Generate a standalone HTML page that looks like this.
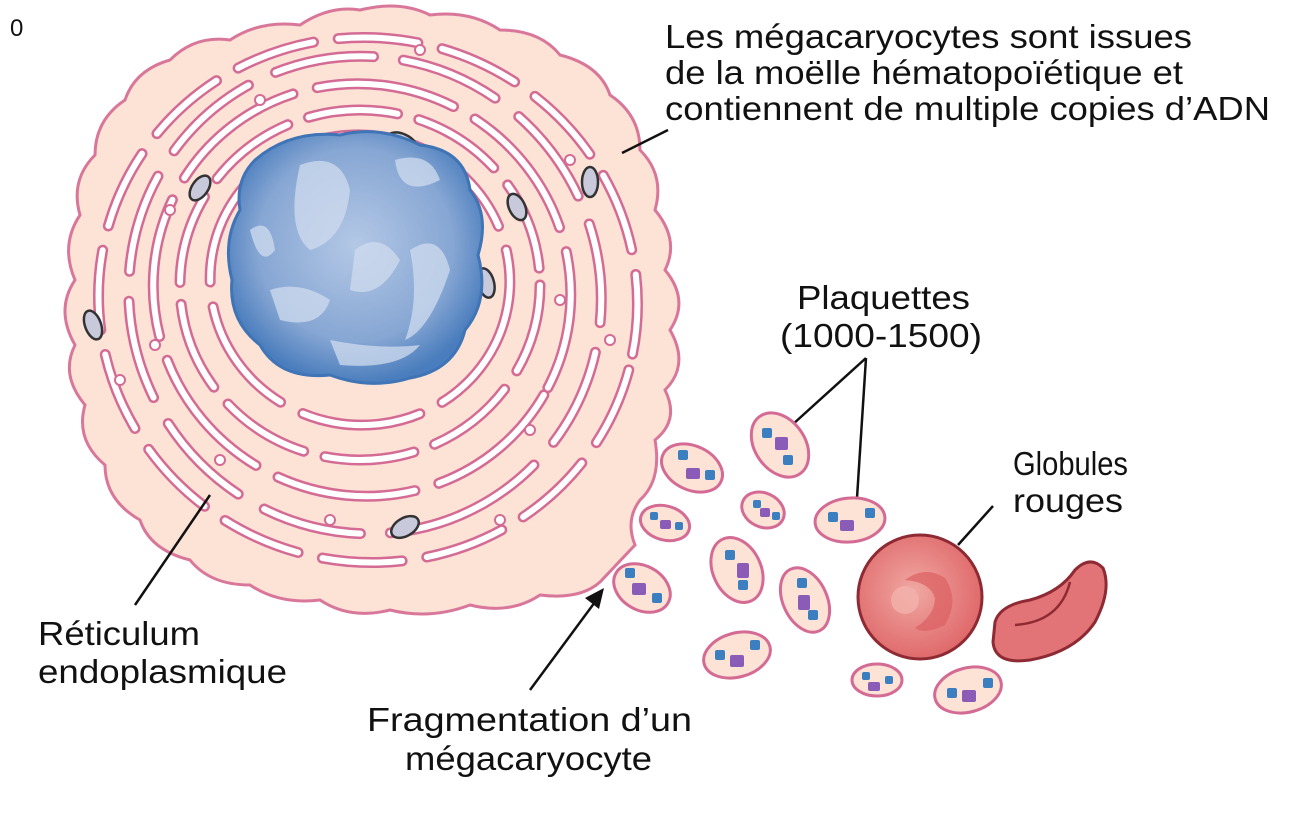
<!DOCTYPE html>
<html><head><meta charset="utf-8"><style>
html,body{margin:0;padding:0;background:#fff;}
svg{display:block;}
text{font-family:"Liberation Sans",sans-serif;fill:#111;}
</style></head><body>
<svg width="1296" height="816" viewBox="0 0 1296 816" xmlns="http://www.w3.org/2000/svg">
<defs>
<clipPath id="cc"><path id="cellp" d="M230,40 Q260,20 300,25 Q330,5 360,10 Q400,0 430,15 Q470,10 500,30 Q540,30 560,55 Q600,65 610,95 Q640,115 640,150 Q665,175 655,210 Q680,240 665,270 Q690,300 670,330 Q690,365 665,390 Q680,420 655,440 Q662,480 640,500 Q625,520 635,545 L600,582 Q580,600 540,595 Q510,615 470,605 Q430,620 390,610 Q350,620 320,600 Q280,605 250,585 Q210,585 190,560 Q150,550 140,520 Q105,500 105,465 Q75,440 85,405 Q60,375 75,345 Q55,310 75,280 Q60,245 80,215 Q70,180 95,155 Q95,120 125,100 Q135,70 170,60 Q195,35 230,40 Z"/></clipPath>
<radialGradient id="nuc" cx="50%" cy="45%" r="55%"><stop offset="0" stop-color="#b4c8e6"/><stop offset="0.7" stop-color="#86a6d3"/><stop offset="1" stop-color="#4a7dbd"/></radialGradient>
<radialGradient id="rbc" cx="45%" cy="45%" r="55%"><stop offset="0" stop-color="#f0a8a2"/><stop offset="1" stop-color="#e06a6c"/></radialGradient>
</defs>
<text x="10" y="36" font-size="24">0</text>
<use href="#cellp" fill="#fde2d6" stroke="#d9779a" stroke-width="3"/>
<g clip-path="url(#cc)" fill="none">
<g stroke="#d46b94" stroke-width="11" stroke-linecap="round">
<ellipse cx="360" cy="280" rx="150" ry="145" stroke-dasharray="120 25" transform="rotate(10 360 280)"/>
<ellipse cx="360" cy="285" rx="180" ry="175" stroke-dasharray="90 22"/>
<ellipse cx="362" cy="290" rx="210" ry="205" stroke-dasharray="140 25" transform="rotate(30 362 290)"/>
<ellipse cx="365" cy="295" rx="240" ry="235" stroke-dasharray="100 30" transform="rotate(60 365 295)"/>
<ellipse cx="368" cy="300" rx="270" ry="262" stroke-dasharray="80 25" transform="rotate(15 368 300)"/>
</g>
<g stroke="#fff" stroke-width="6" stroke-linecap="round">
<ellipse cx="360" cy="280" rx="150" ry="145" stroke-dasharray="120 25" transform="rotate(10 360 280)"/>
<ellipse cx="360" cy="285" rx="180" ry="175" stroke-dasharray="90 22"/>
<ellipse cx="362" cy="290" rx="210" ry="205" stroke-dasharray="140 25" transform="rotate(30 362 290)"/>
<ellipse cx="365" cy="295" rx="240" ry="235" stroke-dasharray="100 30" transform="rotate(60 365 295)"/>
<ellipse cx="368" cy="300" rx="270" ry="262" stroke-dasharray="80 25" transform="rotate(15 368 300)"/>
</g>
<g fill="#fff" stroke="#d46b94" stroke-width="2">
<circle cx="260" cy="100" r="5"/><circle cx="420" cy="50" r="5"/><circle cx="570" cy="160" r="5"/><circle cx="610" cy="340" r="5"/>
<circle cx="120" cy="380" r="5"/><circle cx="155" cy="345" r="5"/><circle cx="330" cy="520" r="5"/><circle cx="500" cy="520" r="5"/>
<circle cx="170" cy="210" r="5"/><circle cx="530" cy="430" r="5"/><circle cx="220" cy="460" r="5"/><circle cx="560" cy="300" r="5"/>
</g>
<g fill="#c9c9dc" stroke="#333" stroke-width="2.5">
<ellipse cx="402" cy="143" rx="16" ry="9" transform="rotate(25 402 143)"/>
<ellipse cx="200" cy="188" rx="8" ry="14" transform="rotate(35 200 188)"/>
<ellipse cx="517" cy="207" rx="8" ry="14" transform="rotate(-25 517 207)"/>
<ellipse cx="590" cy="182" rx="8" ry="15"/>
<ellipse cx="486" cy="283" rx="8" ry="15" transform="rotate(-15 486 283)"/>
<ellipse cx="93" cy="325" rx="8" ry="15" transform="rotate(-20 93 325)"/>
<ellipse cx="405" cy="527" rx="15" ry="9" transform="rotate(-30 405 527)"/>
</g>
</g>
<path d="M255,160 Q290,130 340,135 Q380,125 420,145 Q465,150 470,190 Q490,215 478,255 Q490,300 465,330 Q455,370 410,378 Q370,390 330,375 Q280,380 260,345 Q228,320 232,280 Q222,240 240,210 Q235,180 255,160 Z" fill="url(#nuc)" stroke="#3f74b6" stroke-width="3"/>
<g fill="#d0dcef" opacity="0.75">
<path d="M300,165 Q340,150 350,190 Q345,240 310,250 Q285,230 300,165Z"/>
<path d="M395,160 Q430,150 440,180 Q400,200 395,160Z"/>
<path d="M410,250 Q440,230 450,270 Q430,330 405,340 Q420,300 410,250Z"/>
<path d="M270,290 Q300,280 330,300 Q320,330 280,320Z"/>
<path d="M330,340 Q380,350 420,345 Q400,370 340,365Z"/>
<path d="M250,230 Q270,215 275,250 Q260,270 250,230Z"/>
<path d="M355,250 Q380,230 400,260 Q380,300 350,290Z"/>
</g>
<g font-size="33">
<text x="665" y="48" textLength="527" lengthAdjust="spacingAndGlyphs">Les mégacaryocytes sont issues</text>
<text x="665" y="84" textLength="518" lengthAdjust="spacingAndGlyphs">de la moëlle hématopoïétique et</text>
<text x="665" y="120" textLength="605" lengthAdjust="spacingAndGlyphs">contiennent de multiple copies d’ADN</text>
<text x="797" y="309" textLength="173" lengthAdjust="spacingAndGlyphs">Plaquettes</text>
<text x="780" y="347" textLength="202" lengthAdjust="spacingAndGlyphs">(1000-1500)</text>
<text x="1013" y="475" textLength="115" lengthAdjust="spacingAndGlyphs">Globules</text>
<text x="1013" y="512" textLength="110" lengthAdjust="spacingAndGlyphs">rouges</text>
<text x="38" y="645" textLength="162" lengthAdjust="spacingAndGlyphs">Réticulum</text>
<text x="38" y="683" textLength="249" lengthAdjust="spacingAndGlyphs">endoplasmique</text>
<text x="367" y="731" textLength="325" lengthAdjust="spacingAndGlyphs">Fragmentation d’un</text>
<text x="405" y="770" textLength="247" lengthAdjust="spacingAndGlyphs">mégacaryocyte</text>
</g>
<g stroke="#111" stroke-width="2.5" fill="none">
<line x1="668" y1="130" x2="622" y2="153"/>
<line x1="866" y1="358" x2="792" y2="425"/>
<line x1="866" y1="358" x2="857" y2="498"/>
<line x1="993" y1="506" x2="958" y2="545"/>
<line x1="210" y1="495" x2="135" y2="605"/>
<line x1="530" y1="690" x2="595" y2="602"/>
</g>
<path d="M604,588 L585,598 L599,609 Z" fill="#111"/>
<g fill="#fde2d6" stroke="#d46b94" stroke-width="3">
<ellipse cx="780" cy="445" rx="25" ry="35" transform="rotate(-35 780 445)"/>
<ellipse cx="692" cy="468" rx="32" ry="22" transform="rotate(25 692 468)"/>
<ellipse cx="763" cy="510" rx="22" ry="17" transform="rotate(25 763 510)"/>
<ellipse cx="850" cy="520" rx="35" ry="22" transform="rotate(-5 850 520)"/>
<ellipse cx="665" cy="523" rx="25" ry="17" transform="rotate(15 665 523)"/>
<ellipse cx="642" cy="588" rx="30" ry="22" transform="rotate(30 642 588)"/>
<ellipse cx="737" cy="570" rx="24" ry="34" transform="rotate(-25 737 570)"/>
<ellipse cx="805" cy="600" rx="22" ry="34" transform="rotate(-25 805 600)"/>
<ellipse cx="737" cy="655" rx="34" ry="22" transform="rotate(-15 737 655)"/>
<ellipse cx="877" cy="680" rx="25" ry="16"/>
<ellipse cx="968" cy="690" rx="34" ry="22" transform="rotate(-15 968 690)"/>
</g>
<g>
<g fill="#3b7fc0">
<rect x="762" y="428" width="10" height="10" rx="2"/><rect x="783" y="455" width="10" height="10" rx="2"/>
<rect x="678" y="450" width="10" height="10" rx="2"/><rect x="705" y="470" width="10" height="10" rx="2"/>
<rect x="753" y="500" width="8" height="8" rx="2"/><rect x="772" y="512" width="8" height="8" rx="2"/>
<rect x="828" y="512" width="10" height="10" rx="2"/><rect x="865" y="508" width="10" height="10" rx="2"/>
<rect x="650" y="512" width="8" height="8" rx="2"/><rect x="675" y="522" width="8" height="8" rx="2"/>
<rect x="625" y="568" width="10" height="10" rx="2"/><rect x="652" y="593" width="10" height="10" rx="2"/>
<rect x="725" y="550" width="10" height="10" rx="2"/><rect x="738" y="580" width="10" height="10" rx="2"/>
<rect x="797" y="578" width="10" height="10" rx="2"/><rect x="808" y="610" width="10" height="10" rx="2"/>
<rect x="715" y="650" width="10" height="10" rx="2"/><rect x="750" y="640" width="10" height="10" rx="2"/>
<rect x="862" y="672" width="8" height="8" rx="2"/><rect x="885" y="676" width="8" height="8" rx="2"/>
<rect x="947" y="688" width="10" height="10" rx="2"/><rect x="983" y="678" width="10" height="10" rx="2"/>
</g>
<g fill="#8a5cb8">
<rect x="775" y="437" width="13" height="13" rx="2"/><rect x="686" y="468" width="14" height="11" rx="2"/>
<rect x="760" y="508" width="10" height="9" rx="2"/><rect x="840" y="520" width="14" height="11" rx="2"/>
<rect x="660" y="520" width="11" height="9" rx="2"/><rect x="632" y="583" width="14" height="12" rx="2"/>
<rect x="737" y="563" width="12" height="15" rx="2"/><rect x="798" y="595" width="12" height="15" rx="2"/>
<rect x="730" y="655" width="14" height="12" rx="2"/><rect x="868" y="682" width="12" height="9" rx="2"/>
<rect x="962" y="690" width="14" height="12" rx="2"/>
</g>
</g>
<circle cx="920" cy="597" r="62" fill="url(#rbc)" stroke="#8e2a33" stroke-width="3"/>
<path d="M905,580 Q925,565 945,578 Q960,600 945,625 Q925,635 915,628 Q935,615 935,598 Q930,582 905,580Z" fill="#dc5f62" opacity="0.7"/>
<circle cx="905" cy="600" r="14" fill="#f2b2ab" opacity="0.8"/>
<path d="M995,622 Q1000,605 1030,600 Q1060,592 1075,570 Q1090,555 1103,568 Q1112,590 1095,622 Q1075,652 1030,660 Q995,665 993,642 Z" fill="#e27377" stroke="#8e2a33" stroke-width="3"/>
<path d="M1015,625 Q1060,622 1070,582" fill="none" stroke="#8e2a33" stroke-width="2.5"/>
</svg>
</body></html>
